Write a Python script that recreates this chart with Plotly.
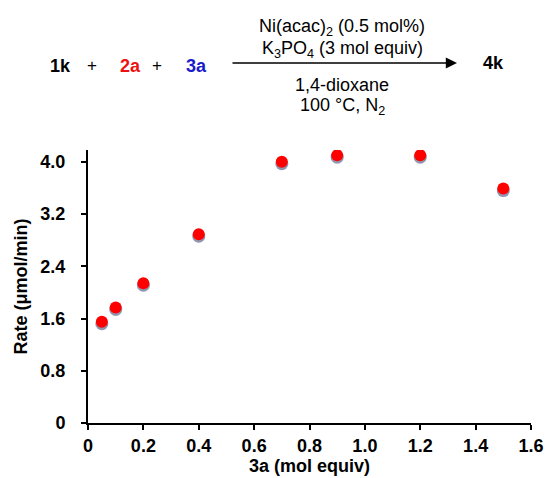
import plotly.graph_objects as go

equiv = [0.05, 0.10, 0.20, 0.40, 0.70, 0.90, 1.20, 1.50]
rate = [1.55, 1.77, 2.14, 2.89, 4.00, 4.10, 4.10, 3.59]
x_ticks = [0, 0.2, 0.4, 0.6, 0.8, 1.0, 1.2, 1.4, 1.6]
x_tick_text = ["0", "0.2", "0.4", "0.6", "0.8", "1.0", "1.2", "1.4", "1.6"]
y_ticks = [0, 0.8, 1.6, 2.4, 3.2, 4.0]
y_tick_text = ["0", "0.8", "1.6", "2.4", "3.2", "4.0"]

W, H = 546, 478
# plot area in page pixels: x 88..531, y 150..423
L, R, T, B = 88, W - 531, 150, H - 423
pw, ph = W - L - R, H - T - B
YMAX = 4.18

def px(x):
    return (x - L) / pw

def py(y):
    return (H - B - y) / ph

FONT = "Arial, Liberation Sans, sans-serif"

fig = go.Figure()
fig.add_trace(go.Scatter(x=[None], y=[None], mode="markers", hoverinfo="skip"))
shift = 2.0 / ph * YMAX
fig.add_trace(go.Scatter(x=equiv, y=rate, mode="markers", yaxis="y2",
                         marker=dict(size=13, color="#9096b0"), hoverinfo="skip"))
fig.add_trace(go.Scatter(x=equiv, y=rate, mode="markers", yaxis="y3",
                         marker=dict(size=12, color="#ff0000")))

axfont = dict(size=18, weight="bold", family=FONT, color="black")
fig.update_layout(
    width=W, height=H, showlegend=False,
    margin=dict(l=L, r=R, t=T, b=B),
    plot_bgcolor="white", paper_bgcolor="white",
    font=dict(family=FONT, color="black"),
    xaxis=dict(range=[0, 1.6], tickvals=x_ticks, ticktext=x_tick_text,
               showgrid=False, zeroline=False, showline=True, linecolor="black",
               linewidth=2, ticks="outside", ticklen=5, tickwidth=2, tickcolor="black",
               tickfont=axfont, automargin=False, ticklabelstandoff=0,
               ticklabeloverflow="allow",
               title=dict(text="3a (mol equiv)", font=axfont, standoff=2)),
    yaxis=dict(range=[0, YMAX], tickvals=y_ticks, ticktext=y_tick_text,
               showgrid=False, zeroline=False, showline=True, linecolor="black",
               linewidth=2, ticks="outside", ticklen=5, tickwidth=2, tickcolor="black",
               tickfont=axfont, automargin=False, ticklabelstandoff=12,
               title=dict(text="Rate (μmol/min)", font=axfont, standoff=8)),
    yaxis2=dict(range=[shift, YMAX + shift], overlaying="y", visible=False),
    yaxis3=dict(range=[0, YMAX], overlaying="y", visible=False),
)

ann = []
def txt(text, x, y, size=18, color="black", bold=False):
    ann.append(dict(text=text, x=px(x), y=py(y), xref="paper", yref="paper",
                    showarrow=False, xanchor="center", yanchor="middle",
                    font=dict(size=size, color=color, family=FONT,
                              weight="bold" if bold else "normal")))

txt("1k", 60, 66, 18, bold=True)
txt("+", 92, 65, 17)
txt("2a", 130, 66, 18, "#ee1111", True)
txt("+", 157, 65, 17)
txt("3a", 196, 66, 18, "#1a1acc", True)
txt("4k", 493, 63, 18, bold=True)
txt("Ni(acac)<sub>2</sub> (0.5 mol%)", 342, 27, 18)
txt("K<sub>3</sub>PO<sub>4</sub> (3 mol equiv)", 342, 50, 18)
txt("1,4-dioxane", 342, 85, 18)
txt("100 °C, N<sub>2</sub>", 342, 107, 18)

ann.append(dict(x=px(457), y=py(63), ax=-(457 - 231), ay=0, xref="paper", yref="paper",
                axref="pixel", ayref="pixel", showarrow=True, arrowhead=2, arrowsize=1.6,
                arrowwidth=1.4, arrowcolor="black", text=""))
fig.update_layout(annotations=ann)

fig.write_html("out.html", config={"displayModeBar": False},
               post_script="document.body.style.margin='0';document.body.style.overflow='hidden';")
